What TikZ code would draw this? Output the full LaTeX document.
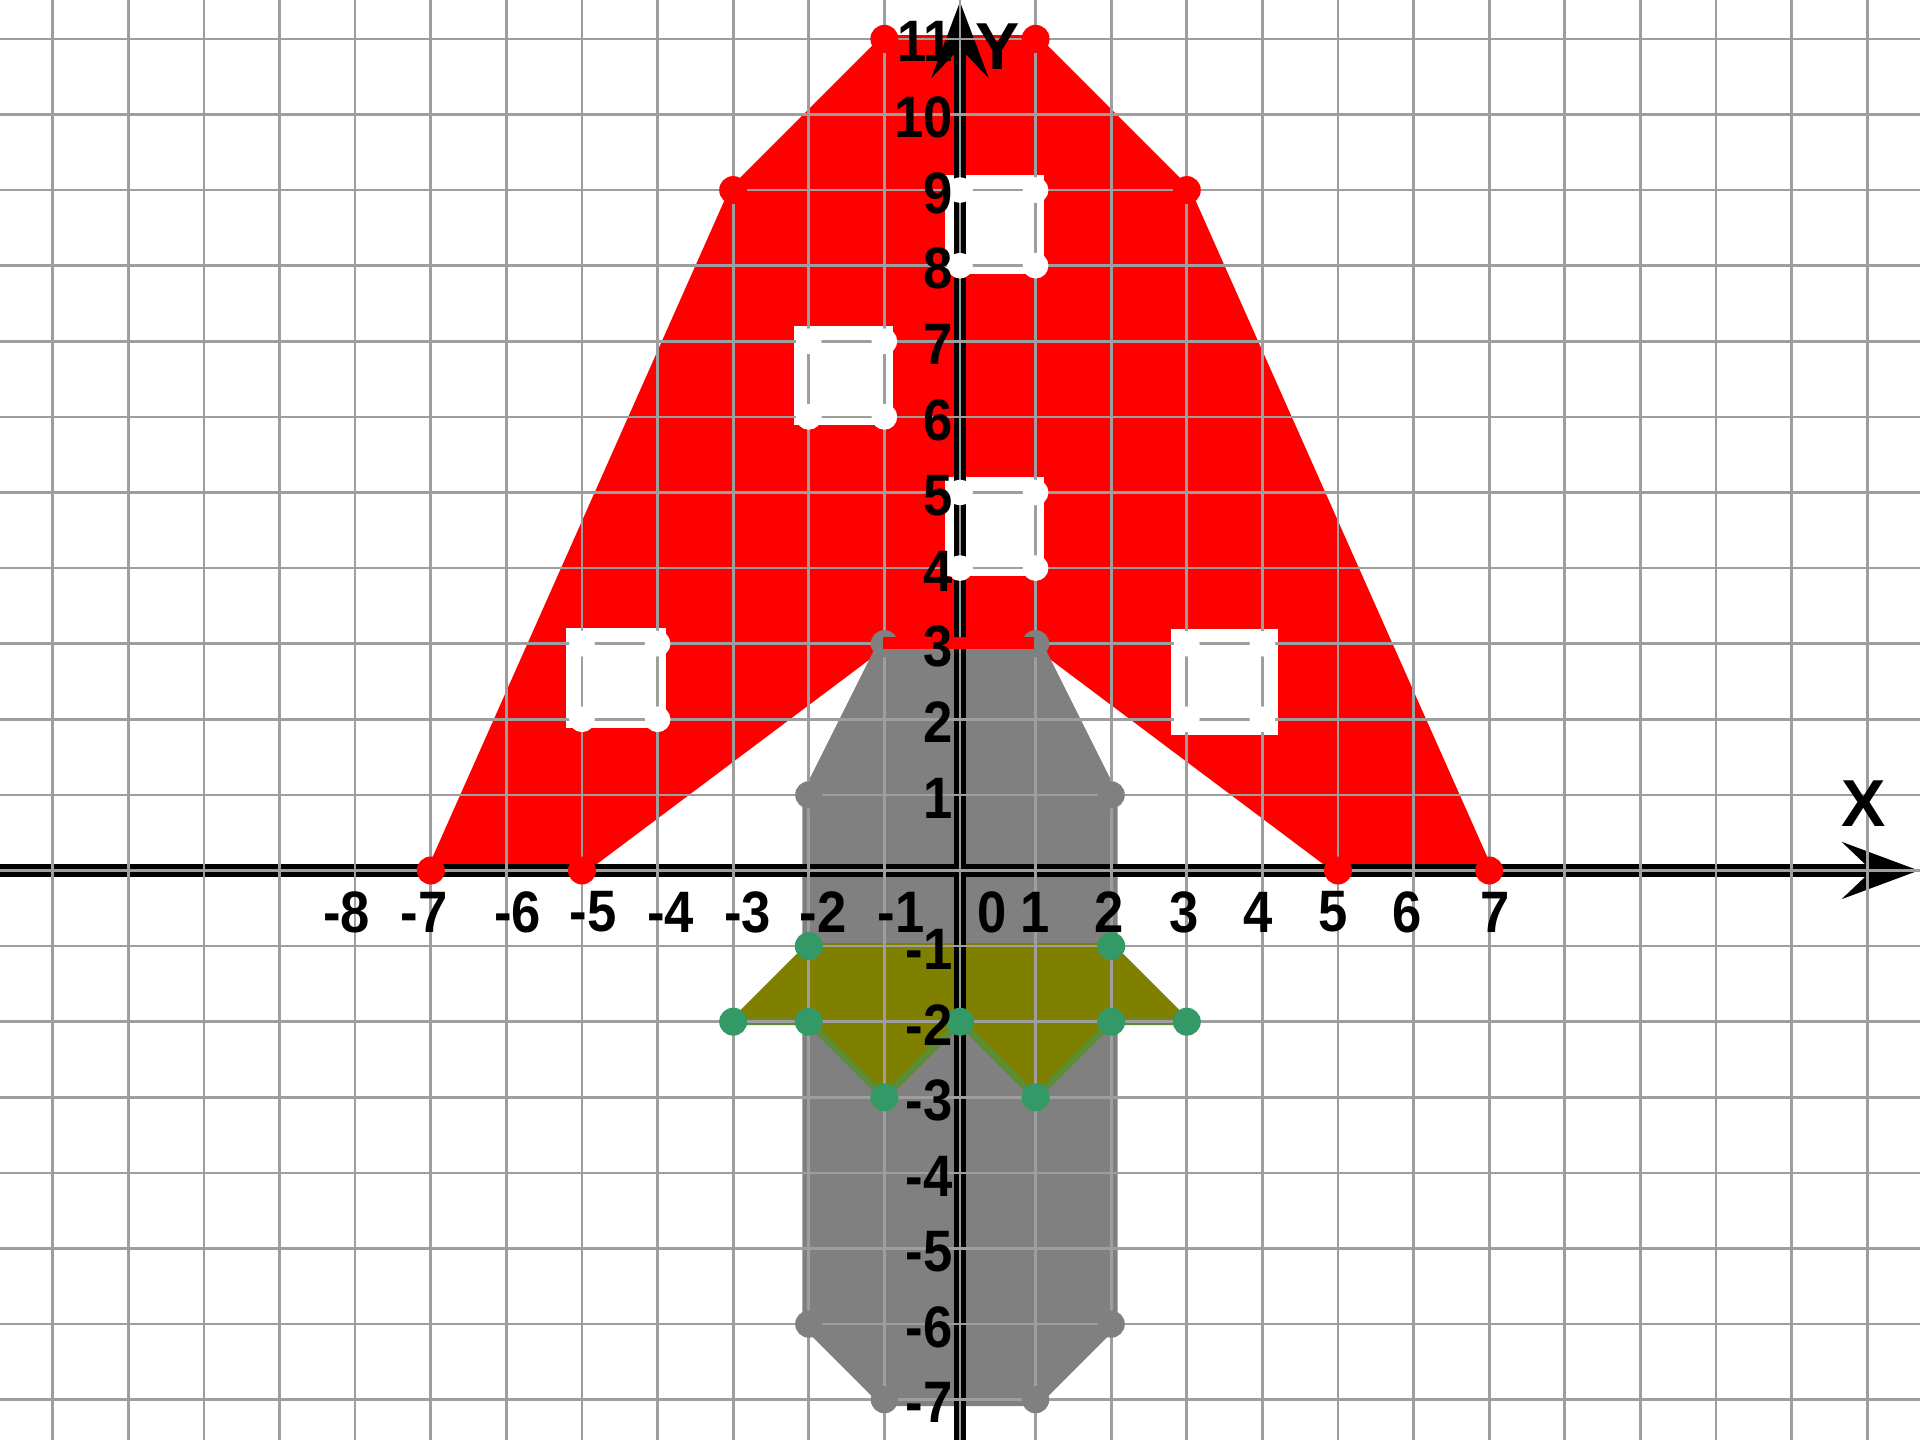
\documentclass[tikz,border=0pt]{standalone}
\usepackage{fontspec}
\setmainfont{Liberation Sans}
\newfontfamily\numfont[FakeStretch=0.9]{Liberation Sans}
\definecolor{gridc}{RGB}{158,158,158}
\definecolor{shroomgray}{RGB}{128,128,128}
\definecolor{olivec}{RGB}{128,128,0}
\definecolor{dotgreen}{RGB}{51,153,102}
\definecolor{edgegreen}{RGB}{92,140,52}
\begin{document}
\begin{tikzpicture}[x=1cm,y=1cm,
  gridline/.style={draw=gridc,line width=1pt},
  axisline/.style={draw=black,line width=0.17cm},
  arrowtip/.style={fill=black},
  capfill/.style={fill=red,draw=red,line width=0.1cm,line join=round},
  stemfill/.style={fill=shroomgray,draw=shroomgray,line width=0.17cm,line join=round},
  skirtfill/.style={fill=olivec,draw=olivec,line width=0.08cm,line join=round},
  skirtedge/.style={draw=edgegreen,line width=0.09cm,line join=round},
  spot/.style={fill=white},
  reddot/.style={fill=red},
  graydot/.style={fill=shroomgray},
  greendot/.style={fill=dotgreen},
  whitedot/.style={fill=white},
  num/.style={font=\numfont\bfseries\fontsize{22}{22}\selectfont,inner sep=0pt,text=black},
  axlab/.style={font=\bfseries\fontsize{25}{25}\selectfont,inner sep=0pt,text=black}]
\useasboundingbox[fill=white] (-12.698,-7.533) rectangle (12.698,11.514);

% red cap
\path[capfill] (-7,0) -- (-3,9) -- (-1,11) -- (1,11) -- (3,9) -- (7,0) -- (5,0) -- (1,3) -- (-1,3) -- (-5,0) -- cycle;
% gray stem
\path[stemfill] (-1,3) -- (1,3) -- (2,1) -- (2,-6) -- (1,-7) -- (-1,-7) -- (-2,-6) -- (-2,1) -- cycle;
% olive skirt
\path[skirtfill] (-2,-1) -- (2,-1) -- (3,-2) -- (2,-2) -- (1,-3) -- (0,-2) -- (-1,-3) -- (-2,-2) -- (-3,-2) -- cycle;
\path[skirtedge] (-3,-2) -- (-2,-2) -- (-1,-3) -- (0,-2) -- (1,-3) -- (2,-2) -- (3,-2);

% white spots (bodies)
\fill[spot] (-0.2,7.89) rectangle (1.11,9.2);
\fill[spot] (-2.2,5.89) rectangle (-0.89,7.2);
\fill[spot] (-0.2,3.89) rectangle (1.11,5.2);
\fill[spot] (-5.21,1.89) rectangle (-3.89,3.21);
\fill[spot] (2.79,1.79) rectangle (4.21,3.2);

% axes
\coordinate (xs) at (-12.698,0);
\coordinate (xe) at (12.1,0);
\coordinate (ys) at (0,-7.533);
\coordinate (ye) at (0,10.9);
\draw[axisline] (xs) -- (xe);
\draw[axisline] (ys) -- (ye);
\fill[arrowtip] (12.68,0) -- (11.66,0.38) -- (12.06,0) -- (11.66,-0.38) -- cycle;
\fill[arrowtip] (0,11.49) -- (0.38,10.48) -- (0,10.88) -- (-0.38,10.48) -- cycle;

% grid
\draw[gridline] (-12.698,-7.533) grid (12.698,11.514);

% dots
\foreach \p in {(-7,0),(-5,0),(-3,9),(-1,11),(1,11),(3,9),(5,0),(7,0)}
  \fill[reddot] \p circle (0.185);
\foreach \p in {(-1,3),(1,3),(2,1),(2,-6),(1,-7),(-1,-7),(-2,-6),(-2,1)}
  \fill[graydot] \p circle (0.18);
\foreach \p in {(-2,-1),(2,-1),(3,-2),(2,-2),(1,-3),(0,-2),(-1,-3),(-2,-2),(-3,-2)}
  \fill[greendot] \p circle (0.185);
\foreach \p in {(0,8),(1,8),(0,9),(1,9),(-2,6),(-1,6),(-2,7),(-1,7),(0,4),(1,4),(0,5),(1,5),(-5,2),(-4,2),(-5,3),(-4,3),(3,2),(4,2),(3,3),(4,3)}
  \fill[whitedot] \p circle (0.17);

% red rim at y=3
\draw[red,line width=0.16cm] (-1.02,3.01) -- (0.98,3.01);

% x labels
\node[num] (xm8) at (-8.11,-0.55) {-8};
\node[num] (xm7) at (-7.09,-0.55) {-7};
\node[num] (xm6) at (-5.85,-0.55) {-6};
\node[num] (xm5) at (-4.85,-0.55) {-5};
\node[num] (xm4) at (-3.83,-0.55) {-4};
\node[num] (xm3) at (-2.81,-0.55) {-3};
\node[num] (xm2) at (-1.81,-0.55) {-2};
\node[num] (xm1) at (-0.78,-0.55) {-1};
\node[num] (x0) at (0.43,-0.55) {0};
\node[num] (x1) at (0.99,-0.55) {1};
\node[num] (x2) at (1.97,-0.55) {2};
\node[num] (x3) at (2.97,-0.55) {3};
\node[num] (x4) at (3.94,-0.55) {4};
\node[num] (x5) at (4.93,-0.55) {5};
\node[num] (x6) at (5.91,-0.55) {6};
\node[num] (x7) at (7.08,-0.55) {7};

% y labels
\foreach \v in {11,10,9,8,7,6,5,4,3,2,1,-1,-2,-3,-4,-5,-6,-7}
  \node[num,anchor=east] (y\v) at (-0.09,\v-0.04) {\v};

\node[axlab] (xlab) at (11.95,0.88) {X};
\node[axlab] (ylab) at (0.5,10.9) {Y};
\end{tikzpicture}
\end{document}
